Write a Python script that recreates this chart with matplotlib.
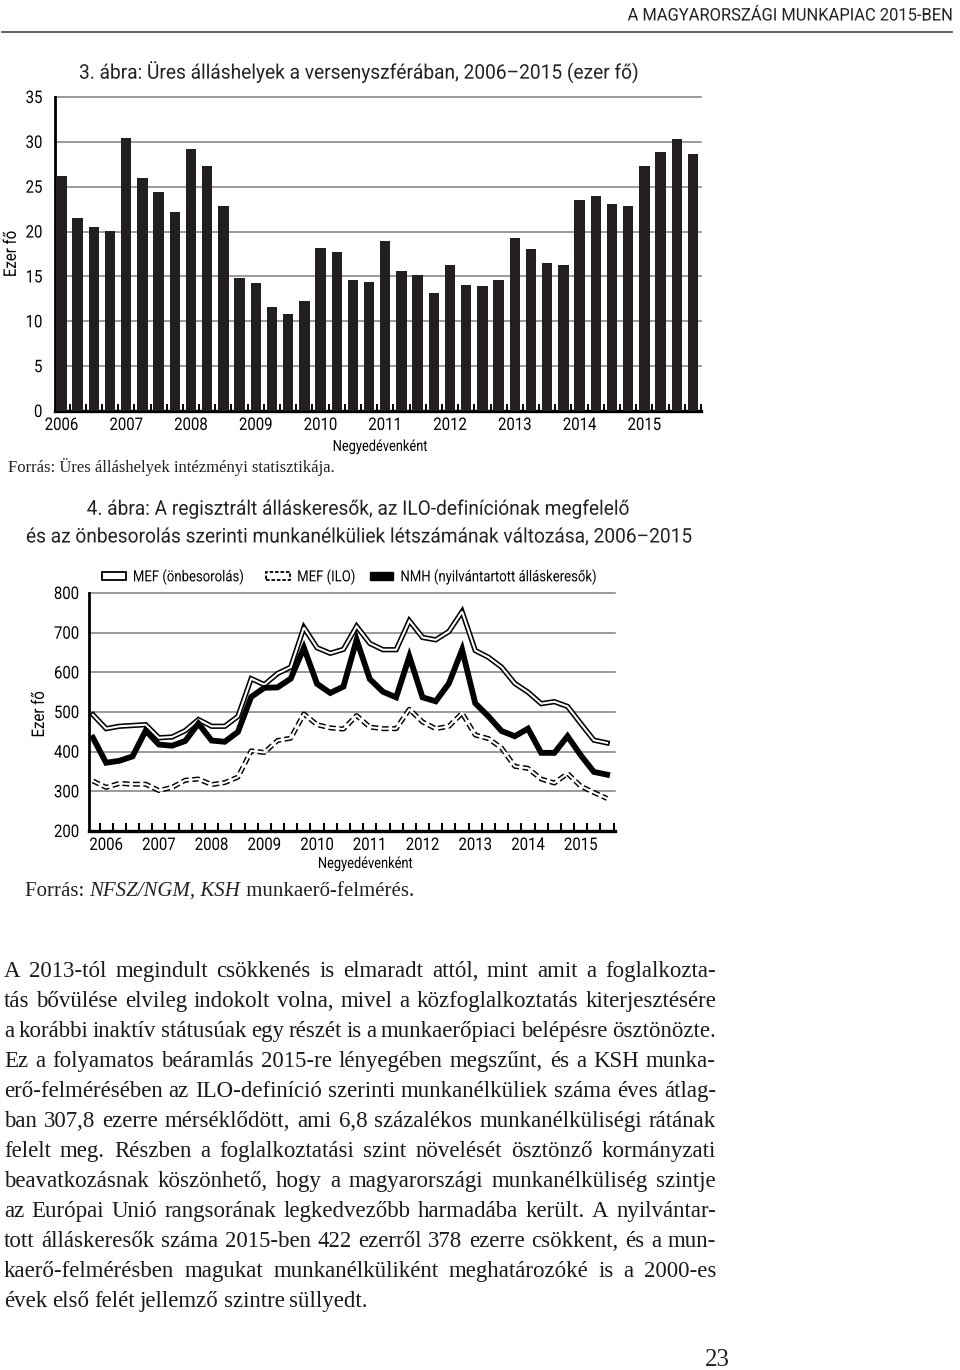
import matplotlib
matplotlib.use('Agg')
import matplotlib.pyplot as plt
import numpy as np
from matplotlib import font_manager
from matplotlib.lines import Line2D
from matplotlib.patches import Patch
from matplotlib.patheffects import AbstractPathEffect
from matplotlib.transforms import Affine2D

# fonts: narrow grotesk for charts, serif for body text
names = {f.name for f in font_manager.fontManager.ttflist}
narrow = 'Roboto'
for cand in ['Liberation Sans Narrow', 'DejaVu Sans Condensed']:
    if cand in names:
        narrow = cand
        break
serif = 'Liberation Serif'
plt.rcParams['font.family'] = [narrow, 'DejaVu Sans']

# ---- data ----
years = ['2006', '2007', '2008', '2009', '2010', '2011', '2012', '2013', '2014', '2015']

# 3. ábra: üres álláshelyek (ezer fő), negyedévenként
vacancies = [26.2, 21.5, 20.5, 20.1, 30.4, 26.0, 24.4, 22.2,
             29.2, 27.3, 22.8, 14.8, 14.3, 11.6, 10.8, 12.3,
             18.2, 17.7, 14.6, 14.4, 18.9, 15.6, 15.2, 13.1,
             16.3, 14.0, 13.9, 14.6, 19.3, 18.1, 16.5, 16.3,
             23.5, 24.0, 23.1, 22.8, 27.3, 28.9, 30.3, 28.7]

# 4. ábra: munkanélküliek (ezer fő), negyedévenként
mef_self = [493, 458, 464, 466, 468, 435, 437, 453, 481, 464,
            464, 489, 584, 569, 597, 613, 713, 662, 648, 658,
            716, 673, 657, 657, 730, 688, 682, 703, 753, 655,
            638, 613, 572, 550, 521, 526, 514, 471, 429, 422]
mef_ilo = [326, 310, 320, 318, 318, 302, 310, 328, 331, 317,
           322, 336, 402, 398, 428, 434, 495, 468, 460, 457,
           491, 462, 458, 458, 507, 475, 458, 464, 497, 442,
           433, 409, 363, 358, 331, 321, 345, 313, 297, 282]
nmh = [435, 372, 377, 388, 453, 418, 415, 427, 471, 428,
       425, 450, 538, 561, 562, 584, 662, 571, 548, 564,
       682, 583, 551, 537, 640, 537, 527, 572, 657, 522,
       489, 452, 439, 458, 397, 397, 439, 391, 349, 342]

legend_labels = ['MEF (önbesorolás)', 'MEF (ILO)', 'NMH (nyilvántartott álláskeresők)']

body_lines = [
    "A 2013-tól megindult csökkenés is elmaradt attól, mint amit a foglalkozta-",
    "tás bővülése elvileg indokolt volna, mivel a közfoglalkoztatás kiterjesztésére",
    "a korábbi inaktív státusúak egy részét is a munkaerőpiaci belépésre ösztönözte.",
    "Ez a folyamatos beáramlás 2015-re lényegében megszűnt, és a KSH munka-",
    "erő-felmérésében az ILO-definíció szerinti munkanélküliek száma éves átlag-",
    "ban 307,8 ezerre mérséklődött, ami 6,8 százalékos munkanélküliségi rátának",
    "felelt meg. Részben a foglalkoztatási szint növelését ösztönző kormányzati",
    "beavatkozásnak köszönhető, hogy a magyarországi munkanélküliség szintje",
    "az Európai Unió rangsorának legkedvezőbb harmadába került. A nyilvántar-",
    "tott álláskeresők száma 2015-ben 422 ezerről 378 ezerre csökkent, és a mun-",
    "kaerő-felmérésben magukat munkanélküliként meghatározóké is a 2000-es",
    "évek első felét jellemző szintre süllyedt.",
]


class Squeeze(AbstractPathEffect):
    """Draw text narrower (a stand-in for the condensed face of the original)."""

    def __init__(self, s=0.86, anchor='center', axis='x'):
        super().__init__()
        self.s, self.anchor, self.axis = s, anchor, axis

    def draw_path(self, renderer, gc, tpath, affine, rgbFace=None):
        ext = tpath.get_extents(affine)
        if self.axis == 'x':
            c = {'left': ext.x0, 'right': ext.x1}.get(self.anchor, (ext.x0 + ext.x1) / 2)
            extra = Affine2D().translate(-c, 0).scale(self.s, 1).translate(c, 0)
        else:
            c = (ext.y0 + ext.y1) / 2
            extra = Affine2D().translate(0, -c).scale(1, self.s).translate(0, c)
        renderer.draw_path(gc, tpath, affine + extra, rgbFace)


def sq(s=0.86, anchor='center', axis='x'):
    return [Squeeze(s, anchor, axis)]


W, H = 960, 1370
fig = plt.figure(figsize=(W / 100, H / 100), dpi=100)


def fx(px):
    return px / W


def fy(py):
    return 1 - py / H


def style_axis_text(ax):
    for t in ax.get_xticklabels():
        t.set_path_effects(sq(0.86, 'center'))
    for t in ax.get_yticklabels():
        t.set_path_effects(sq(0.86, 'right'))
    ax.yaxis.label.set_path_effects(sq(0.86, 'center', 'y'))
    ax.xaxis.label.set_path_effects(sq(0.84, 'center'))


# page header
fig.text(fx(952), fy(16), 'A MAGYARORSZÁGI MUNKAPIAC 2015-BEN', ha='right', va='center',
         fontsize=12.5, color='#222222', path_effects=sq(0.95, 'right'))
fig.add_artist(Line2D([fx(2), fx(952)], [fy(32), fy(32)], color='#555555', lw=1.3))

# ---------------- 3. ábra ----------------
fig.text(fx(358), fy(72), '3. ábra: Üres álláshelyek a versenyszférában, 2006–2015 (ezer fő)',
         ha='center', va='center', fontsize=14.5, color='#222222', path_effects=sq(0.95))

ax1 = fig.add_axes([fx(55), fy(411), (701 - 55) / W, (411 - 97) / H])
x1 = np.arange(len(vacancies))
ax1.bar(x1, vacancies, width=0.64, color='#231f20', zorder=3)
ax1.set_xlim(-0.4, 39.5)
ax1.set_ylim(0, 35)
ax1.set_yticks(np.arange(0, 36, 5))
ax1.yaxis.grid(True, color='#7f7f7f', lw=1.1, zorder=0)
for gl in ax1.get_ygridlines():
    gl.set_clip_on(False)
ax1.set_axisbelow(True)
ax1.set_xticks(np.arange(0, 40, 4))
ax1.set_xticklabels(years)
ax1.set_xticks(np.arange(40) + 0.5, minor=True)
ax1.tick_params(axis='x', which='major', length=0, pad=5, labelsize=12.5)
ax1.tick_params(axis='x', which='minor', direction='in', length=5, width=1.4, color='black')
ax1.tick_params(axis='y', length=0, pad=9, labelsize=12.5)
for s in ['top', 'right']:
    ax1.spines[s].set_visible(False)
ax1.spines['left'].set_linewidth(2)
ax1.spines['bottom'].set_linewidth(2.4)
ax1.set_ylabel('Ezer fő', fontsize=12.5)
ax1.yaxis.set_label_coords(-0.056, 0.5)
ax1.set_xlabel('Negyedévenként', fontsize=11)
ax1.xaxis.set_label_coords(0.503, -0.092)
style_axis_text(ax1)

fig.text(fx(8), fy(467), 'Forrás: Üres álláshelyek intézményi statisztikája.', ha='left', va='center',
         family=serif, fontsize=12, color='#222222')

# ---------------- 4. ábra ----------------
fig.text(fx(357), fy(509), '4. ábra: A regisztrált álláskeresők, az ILO-definíciónak megfelelő',
         ha='center', va='center', fontsize=14.5, color='#222222', path_effects=sq(0.95))
fig.text(fx(358), fy(537), 'és az önbesorolás szerinti munkanélküliek létszámának változása, 2006–2015',
         ha='center', va='center', fontsize=14.5, color='#222222', path_effects=sq(0.95))

ax2 = fig.add_axes([fx(89), fy(831), (615 - 89) / W, (831 - 593) / H])
x2 = np.arange(len(nmh))
ax2.plot(x2, mef_self, color='black', lw=3.8, solid_joinstyle='miter', zorder=3)
ax2.plot(x2, mef_self, color='white', lw=1.5, solid_joinstyle='miter', zorder=3)
ax2.plot(x2, mef_ilo, color='black', lw=3.6, dashes=(1.4, 0.7), zorder=3)
ax2.plot(x2, mef_ilo, color='white', lw=1.5, zorder=3)
ax2.plot(x2, nmh, color='black', lw=4.2, solid_joinstyle='miter', zorder=4)
ax2.set_xlim(-0.3, 39.6)
ax2.set_ylim(200, 800)
ax2.set_yticks(np.arange(200, 801, 100))
ax2.yaxis.grid(True, color='#7f7f7f', lw=1.1, zorder=0)
for gl in ax2.get_ygridlines():
    gl.set_clip_on(False)
ax2.set_axisbelow(True)
ax2.set_xticks(np.arange(1, 40, 4))
ax2.set_xticklabels(years)
ax2.set_xticks(np.arange(40) + 0.5, minor=True)
ax2.tick_params(axis='x', which='major', length=0, pad=5, labelsize=12.5)
ax2.tick_params(axis='x', which='minor', direction='in', length=6, width=1.5, color='black')
ax2.tick_params(axis='y', length=0, pad=7, labelsize=12.5)
for s in ['top', 'right']:
    ax2.spines[s].set_visible(False)
ax2.spines['left'].set_linewidth(2)
ax2.spines['bottom'].set_linewidth(2.4)
ax2.set_ylabel('Ezer fő', fontsize=12.5)
ax2.yaxis.set_label_coords(-0.08, 0.49)
ax2.set_xlabel('Negyedévenként', fontsize=11)
ax2.xaxis.set_label_coords(0.525, -0.109)
style_axis_text(ax2)

handles = [Patch(facecolor='white', edgecolor='black', lw=1.3),
           Patch(facecolor='white', edgecolor='black', lw=1.3, linestyle=(0, (2, 1))),
           Patch(facecolor='black', edgecolor='black')]
leg = ax2.legend(handles, legend_labels, ncol=3, loc='center left', bbox_to_anchor=(0.025, 1.067),
                 frameon=False, fontsize=11, handlelength=1.55, handleheight=0.4,
                 handletextpad=0.45, columnspacing=0.35, borderpad=0, borderaxespad=0)
for t in leg.get_texts():
    t.set_path_effects(sq(0.86, 'left'))

# source line with italic part
renderer = fig.canvas.get_renderer()
src_parts = [('Forrás: ', 'normal'), ('NFSZ/NGM, KSH', 'italic'), (' munkaerő-felmérés.', 'normal')]
xpos = 25
for txt, style in src_parts:
    t = fig.text(fx(xpos), fy(896), txt, ha='left', va='baseline', family=serif,
                 style=style, fontsize=15, color='#222222')
    xpos += t.get_window_extent(renderer).width

# ---------------- body text (justified) ----------------
x0, x1r = 4, 716
for k, line in enumerate(body_lines):
    y = fy(977 + 30 * k)
    words = line.split(' ')
    texts = [fig.text(0, y, w, ha='left', va='baseline', family=serif, fontsize=16.5,
                      color='#1a1a1a') for w in words]
    widths = [t.get_window_extent(renderer).width for t in texts]
    if k == len(body_lines) - 1:
        gap = 5
    else:
        gap = (x1r - x0 - sum(widths)) / (len(words) - 1)
    xp = x0
    for t, wd in zip(texts, widths):
        t.set_x(fx(xp))
        xp += wd + gap

fig.text(fx(717), fy(1360), '23', ha='center', va='center', family=serif, fontsize=18, color='#222222')

fig.savefig('out.png', dpi=100)
